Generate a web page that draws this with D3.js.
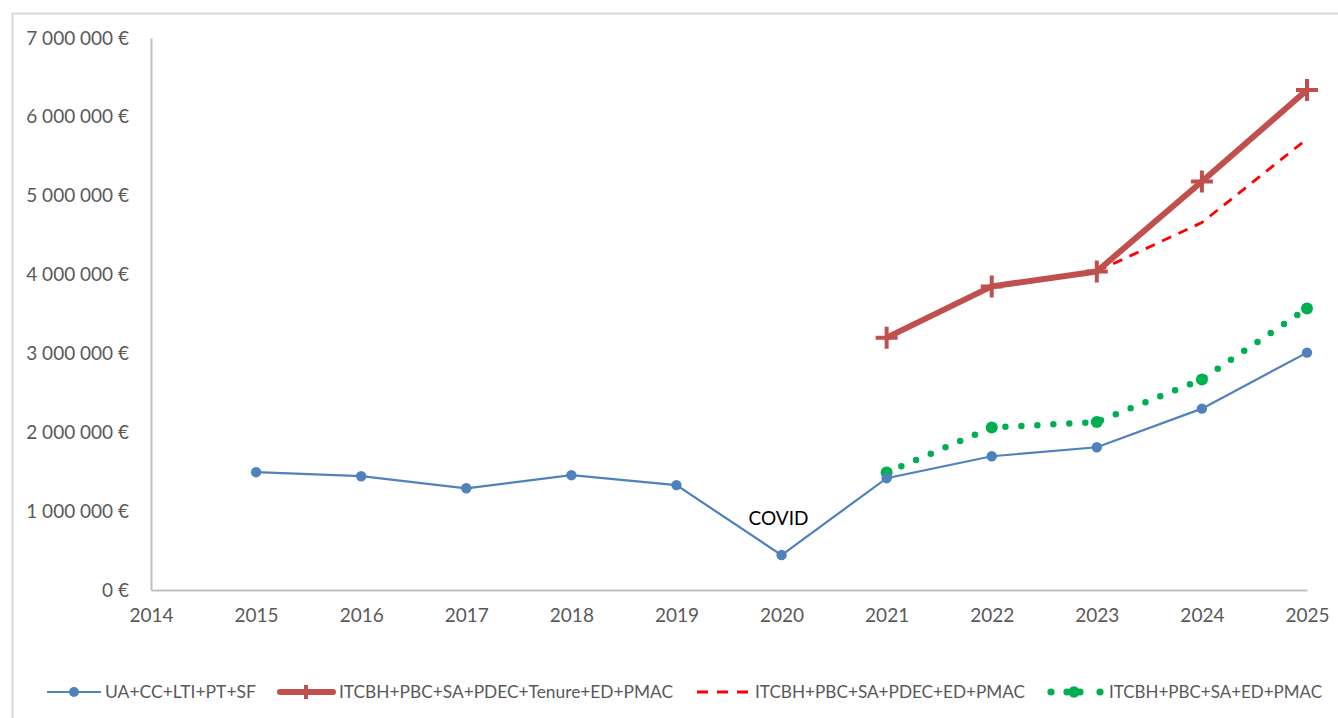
<!DOCTYPE html>
<html>
<head>
<meta charset="utf-8">
<script src="https://cdn.jsdelivr.net/npm/d3@7"></script>
<style>
  body { margin: 0; background: #fff; }
  svg { display: block; font-family: Lato, "Open Sans", sans-serif; }
</style>
</head>
<body>
<svg width="1338" height="718"></svg>
<script>
// data
var years = [2015, 2016, 2017, 2018, 2019, 2020, 2021, 2022, 2023, 2024, 2025]
var blueVals = [1494000, 1443000, 1290000, 1456000, 1330000, 443000, 1418000, 1696000, 1810000, 2300000, 3010000]
var redYears = [2021, 2022, 2023, 2024, 2025]
var redVals = [3200000, 3850000, 4040000, 5180000, 6340000]
var dashYears = [2023, 2024, 2025]
var dashVals = [4040000, 4660000, 5720000]
var greenYears = [2021, 2022, 2023, 2024, 2025]
var greenVals = [1490000, 2060000, 2130000, 2670000, 3570000]
var yTicks = [0, 1000000, 2000000, 3000000, 4000000, 5000000, 6000000, 7000000]
var xTicks = [2014, 2015, 2016, 2017, 2018, 2019, 2020, 2021, 2022, 2023, 2024, 2025]
var legendNames = ["UA+CC+LTI+PT+SF", "ITCBH+PBC+SA+PDEC+Tenure+ED+PMAC", "ITCBH+PBC+SA+PDEC+ED+PMAC", "ITCBH+PBC+SA+ED+PMAC"]

var svg = d3.select("svg")
var mLeft = 151, mRight = 1307, mTop = 38, mBottom = 590

// outer frame
svg.append("rect").attr("x", 12.5).attr("y", 13.5).attr("width", 1340).attr("height", 720)
    .attr("fill", "none").attr("stroke", "#d9d9d9").attr("stroke-width", 2)

var x = d3.scaleLinear().domain([2014, 2025]).range([mLeft, mRight])
var y = d3.scaleLinear().domain([0, 7000000]).range([mBottom, mTop])

function fmt(v) {
    if (v == 0) return "0 €"
    return d3.format(",")(v).replace(/,/g, " ") + " €"
}

// y axis
var ya = svg.append("g").attr("transform", "translate(" + mLeft + ",0)")
    .call(d3.axisLeft(y).tickValues(yTicks).tickFormat(fmt).tickSize(0).tickPadding(22))
ya.select(".domain").attr("stroke", "#bfbfbf").attr("stroke-width", 2)
ya.selectAll("text").attr("font-size", 19).attr("fill", "#595959").attr("font-family", "Lato")

// x axis
var xa = svg.append("g").attr("transform", "translate(0," + mBottom + ")")
    .call(d3.axisBottom(x).tickValues(xTicks).tickFormat(d3.format("d")).tickSize(0).tickPadding(19))
xa.select(".domain").attr("stroke", "#bfbfbf").attr("stroke-width", 2)
xa.selectAll("text").attr("font-size", 19).attr("fill", "#595959").attr("font-family", "Lato")

var line = d3.line().x(function(d) { return x(d[0]) }).y(function(d) { return y(d[1]) })

var blue = d3.zip(years, blueVals)
var red = d3.zip(redYears, redVals)
var dash = d3.zip(dashYears, dashVals)
var green = d3.zip(greenYears, greenVals)

// green dotted
svg.append("path").datum(green).attr("d", line).attr("fill", "none")
    .attr("stroke", "#00b050").attr("stroke-width", 6.5).attr("stroke-linecap", "round")
    .attr("stroke-dasharray", "0,16")
svg.selectAll(".gdot").data(green).enter().append("circle")
    .attr("cx", function(d) { return x(d[0]) }).attr("cy", function(d) { return y(d[1]) })
    .attr("r", 6).attr("fill", "#00b050")

// blue line
svg.append("path").datum(blue).attr("d", line).attr("fill", "none")
    .attr("stroke", "#4f81bd").attr("stroke-width", 2.2)
svg.selectAll(".bdot").data(blue).enter().append("circle")
    .attr("cx", function(d) { return x(d[0]) }).attr("cy", function(d) { return y(d[1]) })
    .attr("r", 5.2).attr("fill", "#4f81bd")

// red dashed
svg.append("path").datum(dash).attr("d", line).attr("fill", "none")
    .attr("stroke", "#ff0000").attr("stroke-width", 2.8).attr("stroke-dasharray", "10,8")

// red thick
svg.append("path").datum(red).attr("d", line).attr("fill", "none")
    .attr("stroke", "#c0504d").attr("stroke-width", 6).attr("stroke-linejoin", "round")
svg.selectAll(".rplus").data(red).enter().append("path")
    .attr("transform", function(d) { return "translate(" + x(d[0]) + "," + y(d[1]) + ")" })
    .attr("d", "M-11,0H11M0,-11V11").attr("stroke", "#c0504d").attr("stroke-width", 4)

// COVID label
svg.append("text").attr("x", x(2020) - 3).attr("y", y(blueVals[5]) - 30).attr("text-anchor", "middle")
    .attr("font-size", 19).attr("fill", "#000").attr("font-family", "Lato").text("COVID")

// legend
var ly = 692
var lg = svg.append("g").attr("font-size", 18).attr("fill", "#595959").attr("font-family", "Lato")
// blue
lg.append("line").attr("x1", 47).attr("x2", 101).attr("y1", ly).attr("y2", ly).attr("stroke", "#4f81bd").attr("stroke-width", 2.2)
lg.append("circle").attr("cx", 74).attr("cy", ly).attr("r", 5).attr("fill", "#4f81bd")
lg.append("text").attr("x", 105).attr("y", ly + 6).attr("textLength", 151).attr("lengthAdjust", "spacingAndGlyphs").text(legendNames[0])
// red thick
lg.append("line").attr("x1", 280).attr("x2", 333).attr("y1", ly).attr("y2", ly).attr("stroke", "#c0504d").attr("stroke-width", 6).attr("stroke-linecap", "round")
lg.append("path").attr("d", "M306," + (ly - 7) + "V" + (ly + 7)).attr("stroke", "#c0504d").attr("stroke-width", 4)
lg.append("text").attr("x", 339).attr("y", ly + 6).attr("textLength", 334).attr("lengthAdjust", "spacingAndGlyphs").text(legendNames[1])
// red dashed
lg.append("line").attr("x1", 697).attr("x2", 752).attr("y1", ly).attr("y2", ly).attr("stroke", "#ff0000").attr("stroke-width", 2.8).attr("stroke-dasharray", "11,9")
lg.append("text").attr("x", 755).attr("y", ly + 6).attr("textLength", 270).attr("lengthAdjust", "spacingAndGlyphs").text(legendNames[2])
// green dotted
;[1051, 1067, 1074, 1080, 1100].forEach(function(cx, i) {
    lg.append("circle").attr("cx", cx).attr("cy", ly).attr("r", (i == 2) ? 5.8 : 3.6).attr("fill", "#00b050")
})
lg.append("text").attr("x", 1109).attr("y", ly + 6).attr("textLength", 213).attr("lengthAdjust", "spacingAndGlyphs").text(legendNames[3])
</script>
</body>
</html>
